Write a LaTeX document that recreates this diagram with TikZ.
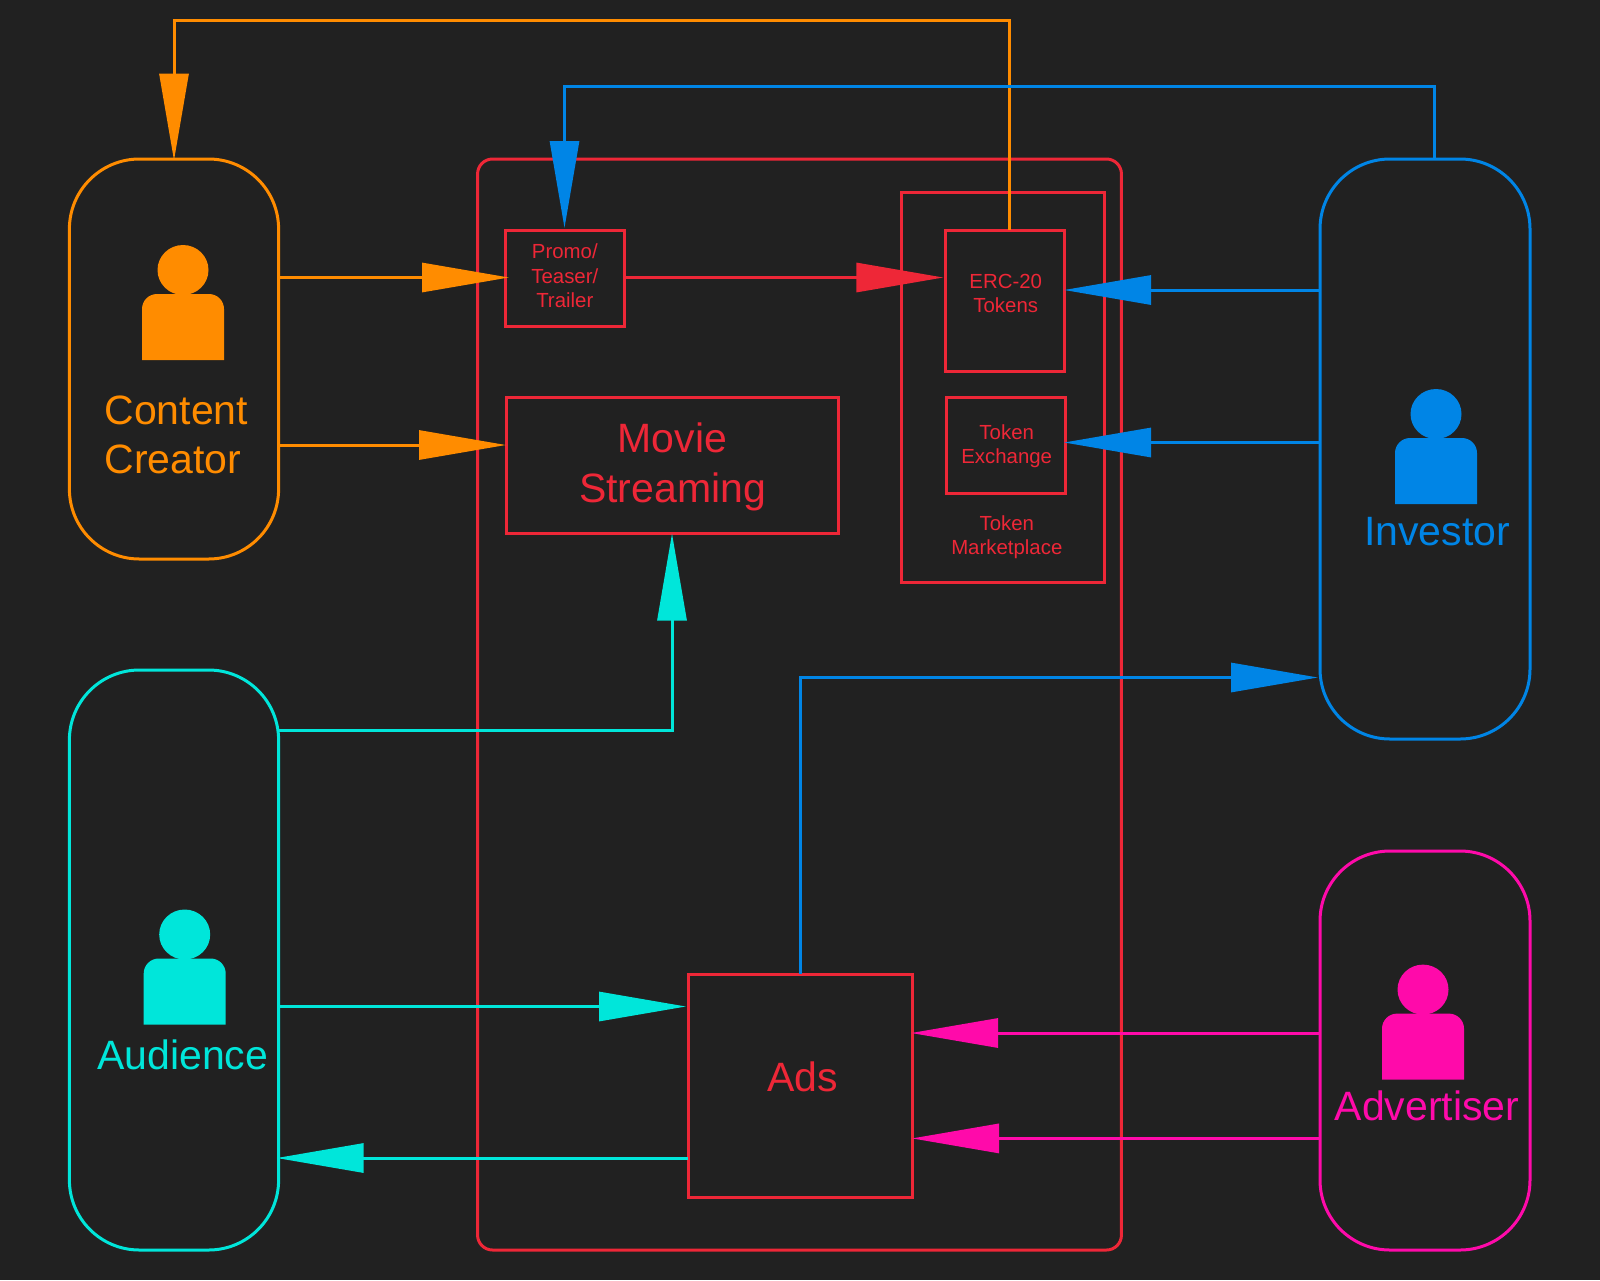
\documentclass[tikz,border=0pt]{standalone}
\usepackage{fontspec}
\setmainfont{Liberation Sans}
\usetikzlibrary{arrows.meta}
\definecolor{bgc}{HTML}{212121}
\definecolor{cOrange}{HTML}{FF8C00}
\definecolor{cBlue}{HTML}{0085E6}
\definecolor{cCyan}{HTML}{00E6DA}
\definecolor{cPink}{HTML}{FF0AAA}
\definecolor{cRed}{HTML}{EE2737}
\tikzset{
  pill/.style={draw=#1,rectangle,rounded corners=70pt,line width=3pt,inner sep=0pt,outer sep=0pt},
  redbox/.style={draw=cRed,rectangle,line width=3pt,inner sep=0pt,outer sep=0pt},
  bigtxt/.style={font=\fontsize{41}{49}\selectfont,inner sep=0pt,align=center},
  smalltxt/.style={font=\fontsize{20.4}{24.4}\selectfont,inner sep=0pt,align=center,text=cRed},
  flow/.style={draw=#1,line width=3pt,-{Triangle[length=87pt,width=29pt,fill=#1]}},
  person/.pic={
    \path[pic actions] (0,-90) ellipse [x radius=25.5pt,y radius=25pt];
    \path[pic actions] (-41,0) [rounded corners=15pt] -- (-41,-66) -- (41,-66) [sharp corners] -- (41,0) -- cycle;
  }
}
\begin{document}
\begin{tikzpicture}[x=1pt,y=-1pt]
\path[use as bounding box,fill=bgc] (0,0) rectangle (1600,1280);
% main container and boxes
\node[redbox,rounded corners=15pt,minimum width=643.9pt,minimum height=1091pt] (main) at (799.5,704.5) {};
\node[redbox,minimum width=119pt,minimum height=96pt] (promo) at (564.5,278) {};
\node[smalltxt] (promolabel) at (564.8,276) {Promo/\\Teaser/\\Trailer};
\node[redbox,minimum width=332pt,minimum height=136pt] (movie) at (672,465) {};
\node[bigtxt,text=cRed,font=\fontsize{41}{50}\selectfont] (movielabel) at (672.5,466.5) {Movie\\Streaming};
\node[redbox,minimum width=203pt,minimum height=390pt] (market) at (1002.5,387) {};
\node[redbox,minimum width=118.6pt,minimum height=141pt] (erc) at (1004.7,300.5) {};
\node[smalltxt] (erclabel) at (1005.7,293.5) {ERC-20\\Tokens};
\node[redbox,minimum width=119pt,minimum height=96pt] (exchange) at (1005.5,445) {};
\node[smalltxt] (exchangelabel) at (1006.7,446) {Token\\Exchange};
\node[smalltxt] (marketlabel) at (1006.8,537.3) {Token\\Marketplace};
\node[redbox,minimum width=224pt,minimum height=223pt] (ads) at (800,1085.5) {};
\node[bigtxt,text=cRed,anchor=base] (adslabel) at (802.5,1091) {Ads};
% actors
\node[pill=cOrange,minimum width=209.2pt,minimum height=400pt] (creator) at (174,359) {};
\node[pill=cCyan,minimum width=209.2pt,minimum height=580pt] (audience) at (174,960) {};
\node[pill=cBlue,minimum width=210pt,minimum height=580pt] (investor) at (1425,449) {};
\node[pill=cPink,minimum width=210pt,minimum height=399pt] (advertiser) at (1425,1050.5) {};
\pic[fill=cOrange] at (183,360) {person};
\pic[fill=cCyan] at (184.7,1024.5) {person};
\pic[fill=cBlue] at (1436,504) {person};
\pic[fill=cPink] at (1423,1079.6) {person};
\node[bigtxt,text=cOrange,align=left] (creatorlabel) at (176.3,435) {Content\\Creator};
\node[bigtxt,text=cCyan,anchor=base] (audiencelabel) at (182.7,1069.5) {Audience};
\node[bigtxt,text=cBlue,anchor=base] (investorlabel) at (1437,545) {Investor};
\node[bigtxt,text=cPink,anchor=base] (advertiserlabel) at (1427,1120) {Advertiser};
% connectors
\draw[flow=cOrange,shorten >=-4pt] (creator.east |- 0,277.5) -- (promo.west |- 0,277.5);
\draw[flow=cOrange] (creator.east |- 0,445) -- (movie.west |- 0,445);
\draw[flow=cRed,shorten >=2pt] (promo.east |- 0,277.5) -- (erc.west |- 0,277.5);
\draw[flow=cOrange,shorten >=-1.5pt] (erc.north -| 1009.7,0) |- (174,20.4) -- (creator.north);
\draw[flow=cBlue,shorten >=2pt] (investor.north -| 1434.7,0) |- (564.5,86.5) -- (promo.north);
\draw[flow=cBlue] (investor.west |- 0,290) -- (erc.east |- 0,290);
\draw[flow=cBlue,shorten >=-1pt] (investor.west |- 0,442.5) -- (exchange.east |- 0,442.5);
\draw[flow=cCyan,shorten >=0.5pt] (audience.east |- 0,730) -| (movie.south);
\draw[flow=cCyan,shorten >=2pt] (audience.east |- 0,1006.5) -- (ads.west |- 0,1006.5);
\draw[flow=cCyan,shorten >=-2pt] (ads.west |- 0,1158) -- (audience.east |- 0,1158);
\draw[flow=cBlue,shorten >=2pt] (ads.north) |- (investor.west |- 0,677.5);
\draw[flow=cPink,shorten >=-1pt] (advertiser.west |- 0,1033) -- (ads.east |- 0,1033);
\draw[flow=cPink] (advertiser.west |- 0,1138.4) -- (ads.east |- 0,1138.4);
\end{tikzpicture}
\end{document}
